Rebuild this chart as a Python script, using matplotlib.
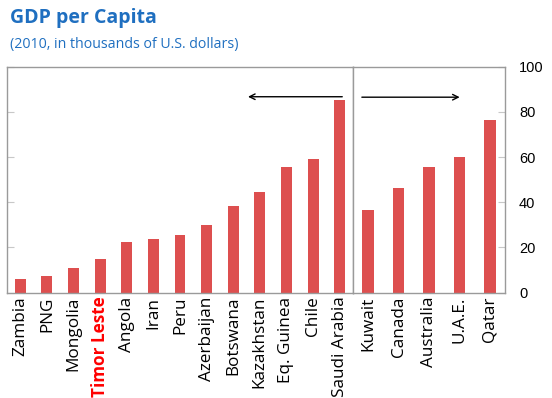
import matplotlib
matplotlib.use("Agg")
import matplotlib.pyplot as plt

# GDP per capita, 2010, thousands of US dollars
left_countries = ['Zambia', 'PNG', 'Mongolia', 'Timor Leste', 'Angola', 'Iran', 'Peru',
                  'Azerbaijan', 'Botswana', 'Kazakhstan', 'Eq. Guinea', 'Chile', 'Saudi Arabia']
left_values = [5.8, 7.1, 11.0, 15.0, 22.4, 23.6, 25.6, 29.9, 38.2, 44.4, 55.4, 59.3, 85.2]

right_countries = ['Kuwait', 'Canada', 'Australia', 'U.A.E.', 'Qatar']
right_values = [36.6, 46.5, 55.8, 60.0, 76.6]

highlight = 'Timor Leste'

BAR_RED = '#DD4F4F'
FRAME = '#9A9A9A'
TITLE_BLUE = '#1F6FC0'
LABEL_FONT = 'Open Sans'

fig = plt.figure(figsize=(5.52, 3.98), dpi=100)
ax_l = fig.add_axes([0.0127, 0.265, 0.6268, 0.5674])
ax_r = fig.add_axes([0.6395, 0.265, 0.2754, 0.5674])

for ax, names, vals, w in [(ax_l, left_countries, left_values, 0.41),
                           (ax_r, right_countries, right_values, 0.38)]:
    x = range(len(names))
    ax.bar(x, vals, width=w, color=BAR_RED, zorder=2)
    ax.set_xlim(-0.5, len(names) - 0.5)
    ax.set_ylim(0, 100)
    ax.set_yticks([0, 20, 40, 60, 80, 100])
    ax.set_xticks(list(x))
    ax.set_xticklabels(names, rotation=90, fontsize=12.3, family=LABEL_FONT)
    ax.tick_params(axis='x', length=0, pad=3)
    for s in ax.spines.values():
        s.set_color(FRAME)
        s.set_linewidth(1.0)
    for lbl in ax.get_xticklabels():
        if lbl.get_text() == highlight:
            lbl.set_color('#FF0000')
            lbl.set_fontweight('bold')

# left panel: inward tick marks only
ax_l.tick_params(axis='y', direction='in', length=5, color='#C8C8C8', labelleft=False)

# right panel: value scale on the right
ax_r.yaxis.tick_right()
ax_r.tick_params(axis='y', direction='in', length=5, color='#C8C8C8', pad=10,
                 labelsize=10.5)
for lbl in ax_r.get_yticklabels():
    lbl.set_family('Liberation Sans')

# arrows pointing away from the divider
ax_l.annotate('', xy=(8.45, 86.7), xytext=(12.2, 86.7),
              arrowprops=dict(arrowstyle='->', color='black', lw=1.0))
ax_r.annotate('', xy=(3.1, 86.5), xytext=(-0.3, 86.5),
              arrowprops=dict(arrowstyle='->', color='black', lw=1.0))

fig.text(0.018, 0.955, 'GDP per Capita', color=TITLE_BLUE, fontsize=14,
         fontweight='bold', family=LABEL_FONT, va='center')
fig.text(0.018, 0.888, '(2010, in thousands of U.S. dollars)', color=TITLE_BLUE,
         fontsize=10.2, family=LABEL_FONT, va='center')

fig.savefig('out.png', dpi=100)
